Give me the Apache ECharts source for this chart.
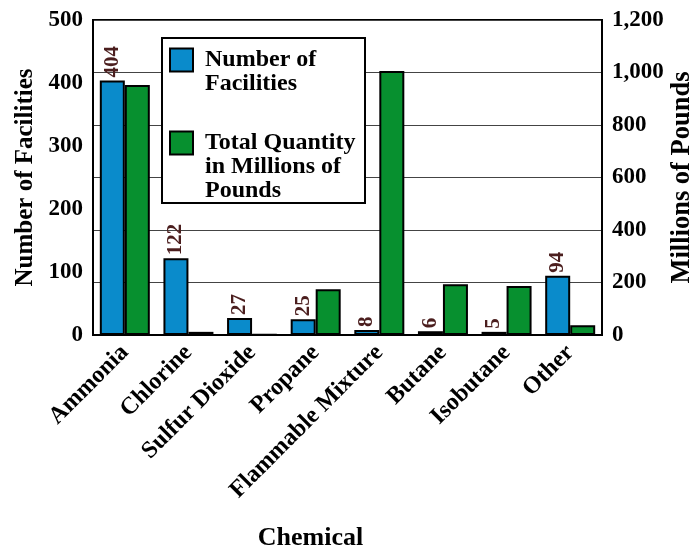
<!DOCTYPE html>
<html>
<head>
<meta charset="utf-8">
<script src="https://cdn.jsdelivr.net/npm/echarts@6/dist/echarts.min.js"></script>
<style>
  html, body { margin: 0; padding: 0; background: #fff; }
  #chart { width: 690px; height: 548px; }
</style>
</head>
<body>
<div id="chart"></div>
<script>
// Chemicals held at regulated facilities
const categories = ['Ammonia', 'Chlorine', 'Sulfur Dioxide', 'Propane',
  'Flammable Mixture', 'Butane', 'Isobutane', 'Other'];
const facilityCounts = [404, 122, 27, 25, 8, 6, 5, 94];
const quantityMillionLbs = [952, 12, 2, 174, 1006, 193, 187, 37];
const leftTicks = { min: 0, max: 500, step: 100 };
const rightTicks = { min: 0, max: 1200, step: 200 };

const FONT = 'Liberation Serif, Times New Roman, serif';
const BLUE = '#0a8bcb';
const GREEN = '#07902f';

const chart = echarts.init(document.getElementById('chart'), null, { renderer: 'canvas' });

const baseText = { fontFamily: FONT, fontWeight: 'bold', color: '#000' };

// Leading blank lines keep each legend icon level with the first text line
const legendText = Object.assign({}, baseText, { fontSize: 24, lineHeight: 24, padding: [0, 0, 0, 7] });

chart.setOption({
  animation: false,
  backgroundColor: '#fff',
  grid: {
    left: 93, right: 88, top: 20, bottom: 213,
    show: true, borderColor: '#000', borderWidth: 2,
    outerBoundsMode: 'none'
  },
  graphic: [{
    type: 'rect', z: 3,
    shape: { x: 162, y: 38, width: 203, height: 165 },
    style: { fill: '#fff', stroke: '#000', lineWidth: 2 }
  }],
  legend: [{
    data: ['Number of Facilities'],
    left: 169, top: 24, padding: 0, z: 5,
    icon: 'rect', itemWidth: 23, itemHeight: 23, selectedMode: false,
    formatter: () => '\nNumber of\nFacilities',
    textStyle: legendText
  }, {
    data: ['Total Quantity in Millions of Pounds'],
    left: 169, top: 83, padding: 0, z: 5,
    icon: 'rect', itemWidth: 23, itemHeight: 23, selectedMode: false,
    formatter: () => '\n\nTotal Quantity\nin Millions of\nPounds',
    textStyle: legendText
  }],
  xAxis: {
    type: 'category',
    data: categories,
    axisLine: { lineStyle: { color: '#000', width: 2 } },
    axisTick: { show: false },
    axisLabel: Object.assign({}, baseText, { fontSize: 24, rotate: 45, interval: 0, margin: 14 }),
    name: 'Chemical',
    nameLocation: 'middle',
    nameGap: 190,
    nameMoveOverlap: false,
    nameTextStyle: Object.assign({}, baseText, { fontSize: 26, padding: [0, 74, 0, 0] })
  },
  yAxis: [{
    type: 'value',
    min: leftTicks.min, max: leftTicks.max, interval: leftTicks.step,
    axisLine: { show: true, lineStyle: { color: '#000', width: 2 } },
    axisTick: { show: false },
    splitLine: { show: false },
    axisLabel: Object.assign({}, baseText, { fontSize: 23, margin: 10 }),
    name: 'Number of Facilities',
    nameLocation: 'middle',
    nameGap: 53,
    nameTextStyle: Object.assign({}, baseText, { fontSize: 25 })
  }, {
    type: 'value',
    position: 'right',
    min: rightTicks.min, max: rightTicks.max, interval: rightTicks.step,
    axisLine: { show: true, lineStyle: { color: '#000', width: 2 } },
    axisTick: { show: false },
    splitLine: { show: true, lineStyle: { color: '#444', width: 1 } },
    axisLabel: Object.assign({}, baseText, {
      fontSize: 23, margin: 10,
      formatter: v => v.toLocaleString('en-US')
    }),
    name: 'Millions of Pounds',
    nameLocation: 'middle',
    nameGap: 67,
    nameMoveOverlap: false,
    nameTextStyle: Object.assign({}, baseText, { fontSize: 26.5 })
  }],
  series: [{
    name: 'Number of Facilities',
    type: 'bar',
    yAxisIndex: 0,
    data: facilityCounts,
    barWidth: 25,
    barGap: '0%',
    itemStyle: { color: BLUE, borderColor: '#000', borderWidth: 2 },
    label: {
      show: true, position: 'top', rotate: 90,
      align: 'left', verticalAlign: 'middle', distance: 3,
      fontFamily: FONT, fontWeight: 'bold', fontSize: 21, color: '#4b1e1e'
    }
  }, {
    name: 'Total Quantity in Millions of Pounds',
    type: 'bar',
    yAxisIndex: 1,
    data: quantityMillionLbs,
    barWidth: 25,
    itemStyle: { color: GREEN, borderColor: '#000', borderWidth: 2 }
  }]
});
</script>
</body>
</html>
